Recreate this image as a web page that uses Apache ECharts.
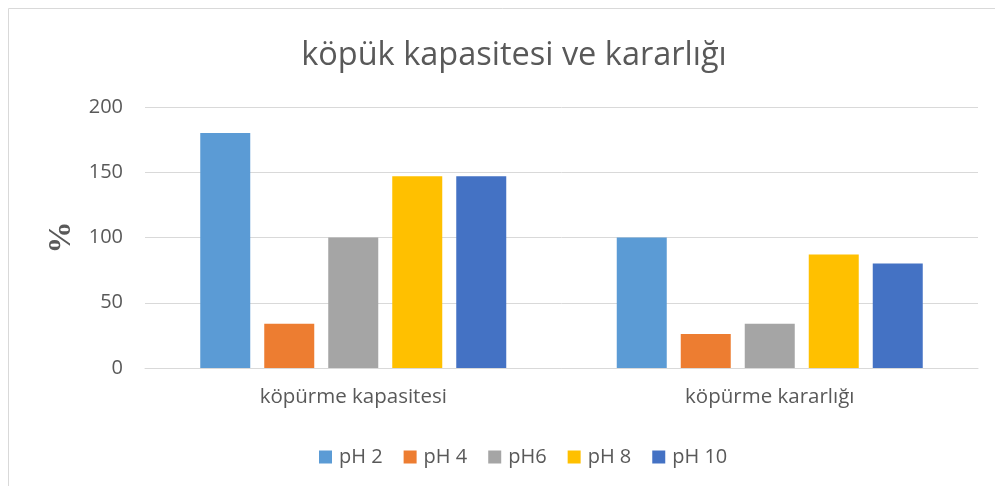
<!DOCTYPE html>
<html>
<head>
<meta charset="utf-8">
<script src="https://cdn.jsdelivr.net/npm/echarts@6/dist/echarts.min.js"></script>
<style>
  html, body { margin: 0; padding: 0; background: #fff; }
  #chart { width: 995px; height: 486px; }
</style>
</head>
<body>
<div id="chart"></div>
<script>
const categories = ['köpürme kapasitesi', 'köpürme kararlığı'];
const seriesNames = ['pH 2', 'pH 4', 'pH6', 'pH 8', 'pH 10'];
const ph2 = [180, 100];
const ph4 = [34, 26];
const ph6 = [100, 34];
const ph8 = [147, 87];
const ph10 = [147, 80];
const yTicks = { min: 0, max: 200, interval: 50 };

const colors = ['#5B9BD5', '#ED7D31', '#A5A5A5', '#FFC000', '#4472C4'];
const values = [ph2, ph4, ph6, ph8, ph10];
const FONT = 'Open Sans';

const chart = echarts.init(document.getElementById('chart'));

chart.setOption({
  animation: false,
  graphic: [{
    type: 'rect',
    shape: { x: 8.5, y: 8.5, width: 1100, height: 600 },
    style: { fill: 'none', stroke: '#d9d9d9', lineWidth: 1 },
    silent: true
  }],
  title: {
    text: 'köpük kapasitesi ve kararlığı',
    left: 509,
    textAlign: 'center',
    top: 34,
    textStyle: { fontFamily: FONT, fontSize: 32.5, fontWeight: 'normal', color: '#595959' }
  },
  legend: {
    data: seriesNames,
    left: 314,
    top: 442,
    itemWidth: 13,
    itemHeight: 13,
    itemGap: 21,
    icon: 'rect',
    textStyle: { fontFamily: FONT, fontSize: 20, color: '#595959', padding: [0, 0, 0, 2] }
  },
  grid: { left: 145, right: 17, top: 107, bottom: 118, containLabel: false },
  xAxis: {
    type: 'category',
    data: categories,
    axisTick: { show: false },
    axisLine: { lineStyle: { color: '#d9d9d9', width: 1 } },
    axisLabel: { fontFamily: FONT, fontSize: 20.5, color: '#595959', margin: 19 }
  },
  yAxis: {
    type: 'value',
    min: yTicks.min,
    max: yTicks.max,
    interval: yTicks.interval,
    name: '%',
    nameLocation: 'middle',
    nameGap: 66,
    nameRotate: 90,
    nameTextStyle: { fontFamily: 'Liberation Serif', fontSize: 32, fontWeight: 'bold', color: '#595959' },
    axisLine: { show: false },
    axisTick: { show: false },
    axisLabel: { fontFamily: FONT, fontSize: 20, color: '#595959', margin: 22 },
    splitLine: { lineStyle: { color: '#d9d9d9', width: 1 } }
  },
  series: seriesNames.map((name, i) => ({
    name,
    type: 'bar',
    data: values[i],
    barWidth: 50,
    barGap: '28%',
    itemStyle: { color: colors[i] }
  }))
});
</script>
</body>
</html>
